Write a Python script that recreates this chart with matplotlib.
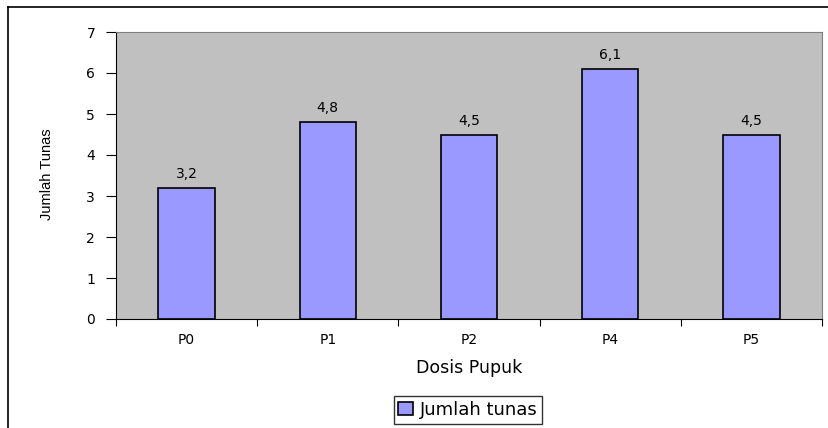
import matplotlib.pyplot as plt
from matplotlib.lines import Line2D
import numpy as np

plt.rcParams['font.family'] = ['DejaVu Sans']

categories = ['P0', 'P1', 'P2', 'P4', 'P5']
values = [3.2, 4.8, 4.5, 6.1, 4.5]
value_labels = ['3,2', '4,8', '4,5', '6,1', '4,5']

fig = plt.figure(figsize=(8.29, 4.28), dpi=100)
ax = fig.add_axes([116 / 829, 1 - 319 / 428, 706 / 829, 287 / 428])
ax.set_facecolor('#C0C0C0')

x = np.arange(len(categories))
bars = ax.bar(x, values, width=0.4, color='#9999FF', edgecolor='black',
              linewidth=1.2, label='Jumlah tunas', zorder=2)
for xi, v, lab in zip(x, values, value_labels):
    ax.text(xi, v + 0.17, lab, ha='center', va='bottom', fontsize=10)

ax.set_xlim(-0.5, len(categories) - 0.5)
ax.set_ylim(0, 7)
ax.set_yticks(range(0, 8))
ax.tick_params(axis='y', labelsize=10, length=7, direction='out', pad=8)

# category labels sit between the boundary ticks
ax.set_xticks(np.arange(-0.5, len(categories)))
ax.set_xticklabels([])
ax.set_xticks(x, minor=True)
ax.set_xticklabels(categories, minor=True)
ax.tick_params(axis='x', which='major', length=5, direction='out')
ax.tick_params(axis='x', which='minor', length=0, labelsize=10, pad=10)

for side in ['top', 'right']:
    ax.spines[side].set_color('#808080')
for side in ['left', 'bottom']:
    ax.spines[side].set_color('black')

ax.set_xlabel('Dosis Pupuk', fontsize=12.5, labelpad=9)
fig.text(47 / 829, 1 - 174 / 428, 'Jumlah Tunas', rotation=90, fontsize=10.5,
         family=['Liberation Sans Narrow', 'Liberation Sans'],
         ha='center', va='center')

fig.legend(handles=[bars], loc='center', bbox_to_anchor=(468 / 829, 1 - 410 / 428),
           fontsize=13, frameon=True, fancybox=False, edgecolor='black',
           handlelength=0.8, handleheight=0.7, handletextpad=0.4,
           borderpad=0.25, borderaxespad=0)

# outer chart frame
fig.add_artist(Line2D([8 / 829, 8 / 829], [0, 1 - 7 / 428], color='black', lw=1.2))
fig.add_artist(Line2D([8 / 829, 1], [1 - 7 / 428, 1 - 7 / 428], color='black', lw=1.2))

plt.savefig('out.png', dpi=100)
